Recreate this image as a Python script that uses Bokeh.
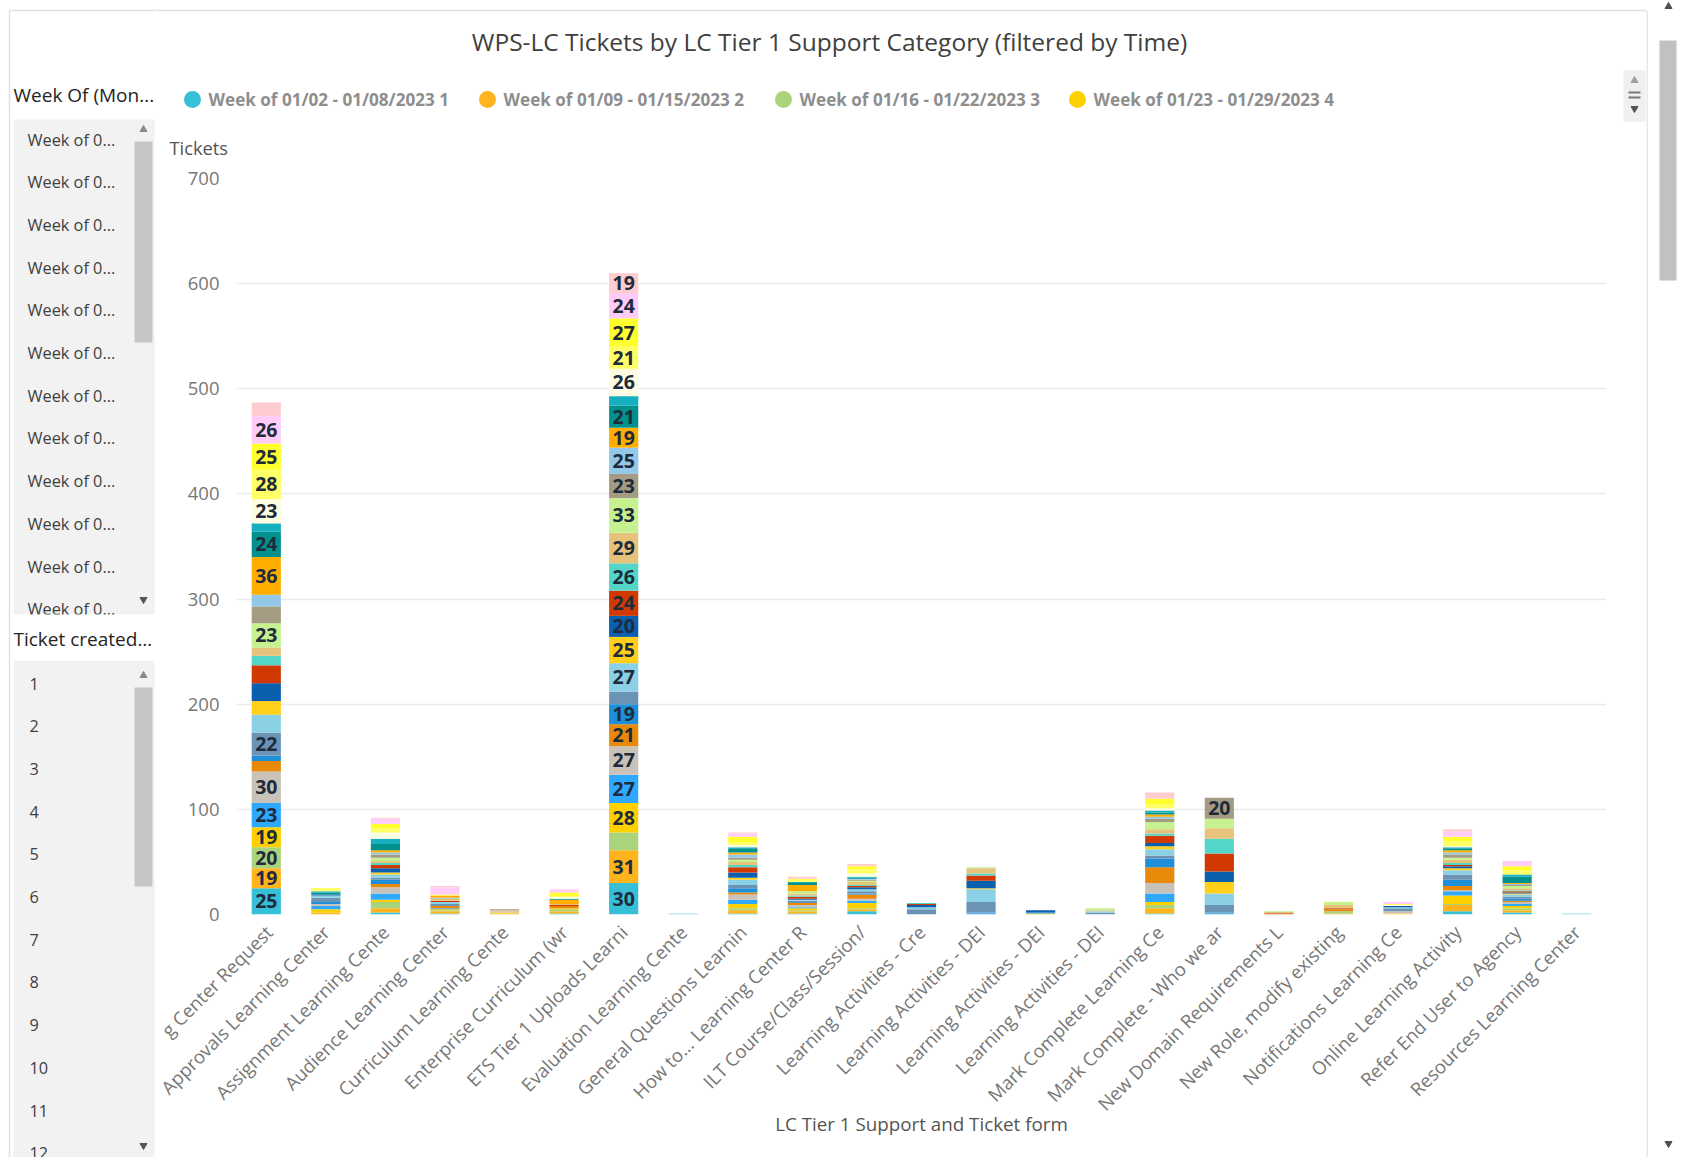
from math import pi
from bokeh.plotting import figure
from bokeh.layouts import row, column
from bokeh.models import ColumnDataSource, FactorRange, Range1d, FixedTicker
from bokeh.core.properties import value
from bokeh.embed import file_html
from bokeh.resources import INLINE

FONT = "Open Sans"

# ---------------- data ----------------
title_text = "WPS-LC Tickets by LC Tier 1 Support Category (filtered by Time)"
x_title = "LC Tier 1 Support and Ticket form"
y_title = "Tickets"
y_ticks = [0, 100, 200, 300, 400, 500, 600, 700]

ZW = "\u200b"
categories = [
    "g Center Request", "Approvals Learning Center", "Assignment Learning Cente",
    "Audience Learning Center", "Curriculum Learning Cente", "Enterprise Curriculum (wr",
    "ETS Tier 1 Uploads Learni", "Evaluation Learning Cente", "General Questions Learnin",
    "How to... Learning Center R", "ILT Course/Class/Session/", "Learning Activities - Cre",
    "Learning Activities - DEI", "Learning Activities - DEI" + ZW, "Learning Activities - DEI" + ZW + ZW,
    "Mark Complete Learning Ce", "Mark Complete - Who we ar", "New Domain Requirements L",
    "New Role, modify existing", "Notifications Learning Ce", "Online Learning Activity",
    "Refer End User to Agency", "Resources Learning Center",
]

legend_labels = [
    "Week of 01/02 - 01/08/2023 1", "Week of 01/09 - 01/15/2023 2",
    "Week of 01/16 - 01/22/2023 3", "Week of 01/23 - 01/29/2023 4",
]

week_colors = [
    "#37BFD7", "#FFB41E", "#A9D47C", "#FFD000", "#2FA8FF", "#C9C2B8", "#E8890A",
    "#1E8FD8", "#6B93B5", "#8BD1E6", "#FFCF1A", "#0A5FAE", "#D03A02", "#53D6C8",
    "#E6C27A", "#C5F28F", "#A39C82", "#93C8E8", "#FFAE00", "#02918C", "#16AFBF",
    "#FFFDE1", "#FFFF66", "#FFFF2E", "#FFCCF8", "#FFCCCF",
]

# tickets per week (weeks 1..26) for each category
learning_center_request = [25, 19, 20, 19, 23, 30, 10, 5, 22, 17, 13, 17, 17, 9, 8, 23, 16, 11, 36, 24, 8, 23, 28, 25, 26, 13]
approvals = [0, 2, 0, 3, 3, 2, 0, 2, 4, 2, 0, 1, 0, 0, 0, 0, 0, 0, 0, 2, 1, 0, 2, 1, 0, 0]
assignment = [2, 4, 6, 2, 6, 6, 3, 4, 2, 3, 2, 4, 3, 2, 2, 3, 3, 2, 2, 6, 5, 6, 4, 4, 5, 1]
audience = [1, 2, 1, 1, 1, 0, 2, 0, 2, 2, 0, 0, 1, 0, 2, 0, 0, 1, 2, 0, 0, 0, 1, 0, 7, 1]
curriculum = [0, 1, 0, 1, 0, 1, 0, 0, 0, 0, 0, 0, 0, 0, 1, 0, 1, 0, 0, 0, 0, 0, 0, 0, 0, 0]
enterprise = [1, 2, 2, 1, 0, 0, 2, 0, 0, 0, 0, 0, 1, 0, 1, 0, 0, 0, 4, 1, 0, 2, 0, 4, 3, 0]
ets_uploads = [30, 31, 17, 28, 27, 27, 21, 19, 12, 27, 25, 20, 24, 26, 29, 33, 23, 25, 19, 21, 9, 26, 21, 27, 24, 19]
evaluation = [0, 0, 0, 0, 0, 0, 0, 0, 0, 1, 0, 0, 0, 0, 0, 0, 0, 0, 0, 0, 0, 0, 0, 0, 0, 0]
general_questions = [1, 3, 2, 4, 4, 5, 2, 4, 3, 5, 2, 5, 5, 2, 3, 2, 2, 3, 2, 4, 1, 2, 3, 5, 3, 1]
how_to = [1, 2, 1, 2, 1, 2, 2, 0, 2, 1, 0, 1, 2, 1, 2, 2, 0, 0, 6, 2, 1, 0, 2, 1, 0, 2]
ilt_course = [3, 2, 1, 5, 2, 2, 4, 1, 2, 2, 0, 2, 1, 1, 3, 1, 1, 1, 0, 1, 1, 3, 4, 3, 0, 2]
la_create = [0, 0, 0, 0, 0, 0, 0, 0, 5, 2, 0, 2, 1, 1, 0, 0, 0, 0, 0, 0, 0, 0, 0, 0, 0, 0]
la_dei_1 = [0, 0, 0, 0, 1, 0, 0, 1, 10, 12, 1, 7, 5, 2, 5, 1, 0, 0, 0, 0, 0, 0, 0, 0, 0, 0]
la_dei_2 = [0, 0, 0, 1, 0, 0, 0, 1, 0, 0, 0, 2, 0, 0, 0, 0, 0, 0, 0, 0, 0, 0, 0, 0, 0, 0]
la_dei_3 = [0, 0, 0, 0, 0, 0, 0, 0, 2, 1, 0, 0, 0, 0, 1, 2, 0, 0, 0, 0, 0, 0, 0, 0, 0, 0]
mark_complete_lc = [1, 5, 3, 3, 8, 10, 15, 8, 3, 6, 3, 3, 7, 2, 4, 7, 3, 2, 2, 2, 2, 2, 4, 5, 0, 6]
mark_complete_who = [1, 0, 0, 0, 0, 0, 0, 1, 7, 11, 11, 10, 17, 14, 10, 9, 20, 0, 0, 0, 0, 0, 0, 0, 0, 0]
new_domain = [0, 0, 0, 0, 0, 0, 1, 0, 0, 0, 0, 0, 1, 0, 0, 1, 0, 0, 0, 0, 0, 0, 0, 0, 0, 0]
new_role = [0, 1, 2, 0, 0, 0, 2, 0, 0, 0, 0, 0, 1, 0, 3, 3, 0, 0, 0, 0, 0, 1, 0, 0, 0, 0]
notifications = [0, 0, 0, 1, 0, 2, 0, 0, 3, 1, 0, 1, 0, 0, 0, 0, 0, 0, 0, 0, 0, 1, 1, 0, 2, 0]
online_activity = [3, 6, 1, 8, 4, 1, 4, 6, 5, 4, 2, 2, 1, 2, 3, 2, 3, 2, 2, 2, 1, 1, 5, 4, 5, 2]
refer_end_user = [2, 2, 2, 2, 2, 2, 1, 2, 2, 2, 1, 1, 1, 1, 2, 2, 1, 1, 1, 6, 2, 0, 4, 4, 5, 0]
resources = [0, 0, 0, 0, 0, 0, 0, 0, 0, 1, 0, 0, 0, 0, 0, 0, 0, 0, 0, 0, 0, 0, 0, 0, 0, 0]

slicer1_header = "Week Of (Mon..."
slicer1_items = ["Week of 0..."] * 12
slicer2_header = "Ticket created..."
slicer2_items = ["1", "2", "3", "4", "5", "6", "7", "8", "9", "10", "11", "12"]

rows_by_cat = [
    learning_center_request, approvals, assignment, audience, curriculum, enterprise,
    ets_uploads, evaluation, general_questions, how_to, ilt_course, la_create,
    la_dei_1, la_dei_2, la_dei_3, mark_complete_lc, mark_complete_who, new_domain,
    new_role, notifications, online_activity, refer_end_user, resources,
]
n_weeks = len(week_colors)
weeks = ["w%02d" % (i + 1) for i in range(n_weeks)]
table = {"cat": categories}
for j, w in enumerate(weeks):
    table[w] = [r[j] for r in rows_by_cat]
src = ColumnDataSource(table)

# labels for segments large enough
lx, ly, lt = [], [], []
for c, r in zip(categories, rows_by_cat):
    cum = 0
    for v in r:
        if v >= 19:
            lx.append(c)
            ly.append(cum + v / 2)
            lt.append(str(v))
        cum += v
lab_src = ColumnDataSource(dict(x=lx, y=ly, t=lt))

# ---------------- helpers ----------------
def deco(w, h, xr, yr):
    f = figure(width=w, height=h, x_range=Range1d(*xr), y_range=Range1d(*yr),
               output_backend="svg", toolbar_location=None,
               x_axis_location=None, y_axis_location=None, min_border=0)
    f.grid.visible = False
    f.outline_line_color = None
    f.background_fill_color = "white"
    f.border_fill_color = "white"
    return f

BORDER = "#E1E1E1"
H = 1157          # total height (page px)
XL = 155          # right edge of slicer panel
XR = 1646         # right edge of visual
W = 1687          # total width
YT = 163          # bottom of header strip

# ---------------- left slicer panel ----------------
L = deco(XL, H, (0, XL), (H, 0))
L.segment(x0=[9, 9], y0=[10, 10], x1=[9, XL], y1=[H, 10], line_color=BORDER, line_width=1.5)
L.quad(left=[13, 13], right=[154, 154], top=[119, 660], bottom=[614, H],
       fill_color="#F2F2F2", line_color=None)
L.text(x=[27] * len(slicer1_items), y=[139 + 42.7 * k for k in range(len(slicer1_items))],
       text=slicer1_items, text_font=value(FONT), text_font_size="16.3px",
       text_color="#404040", text_baseline="middle")
L.quad(left=[11], right=[XL], top=[614], bottom=[660], fill_color="white", line_color=None)
L.text(x=[13, 13], y=[94, 638], text=[slicer1_header, slicer2_header], text_font=value(FONT),
       text_font_size="19px", text_color="#252423", text_baseline="middle")
L.text(x=[29] * len(slicer2_items), y=[683 + 42.7 * k for k in range(len(slicer2_items))],
       text=slicer2_items, text_font=value(FONT), text_font_size="16.3px",
       text_color="#404040", text_baseline="middle")
L.quad(left=[134, 134], right=[152, 152], top=[141, 687], bottom=[342, 886],
       fill_color="#C6C6C6", line_color=None)
L.scatter(x=[143, 143], y=[129, 675], marker="triangle", size=7, color="#8A8A8A")
L.scatter(x=[143, 143], y=[599, 1145], marker="inverted_triangle", size=7, color="#555555")

# ---------------- top header ----------------
T = deco(XR - XL, YT, (XL, XR), (YT, 0))
T.segment(x0=[XL], y0=[10], x1=[XR], y1=[10], line_color=BORDER, line_width=1.5)
T.text(x=[829], y=[41], text=[title_text], text_font=value(FONT), text_font_size="24.5px",
       text_color="#404040", text_align="center", text_baseline="middle")
leg_x = [192, 487, 783, 1077]
T.scatter(x=leg_x, y=[99] * 4, size=17, color=week_colors[:4], line_color=None)
T.text(x=[x + 16 for x in leg_x], y=[99] * 4, text=legend_labels, text_font=value(FONT),
       text_font_size="17.1px", text_font_style="bold", text_color="#8E8E8E",
       text_baseline="middle")
T.text(x=[169], y=[147], text=[y_title], text_font=value(FONT), text_font_size="18.3px",
       text_color="#555555", text_baseline="middle")
T.quad(left=[1623], right=[1645], top=[70], bottom=[121], fill_color="#F0F0F0", line_color=None)
T.scatter(x=[1634], y=[80], marker="triangle", size=7, color="#A0A0A0")
T.scatter(x=[1634], y=[108], marker="inverted_triangle", size=7, color="#555555")
T.segment(x0=[1628, 1628], y0=[92, 97], x1=[1640, 1640], y1=[92, 97], line_color="#777777", line_width=2)

# ---------------- main chart ----------------
M = figure(width=XR - XL, height=H - YT, x_range=FactorRange(factors=categories),
           y_range=Range1d(0, 700), output_backend="svg", toolbar_location=None,
           min_border_left=236 - XL, min_border_right=XR - 1606,
           min_border_top=178 - YT, min_border_bottom=H - 914)
M.outline_line_color = None
M.background_fill_color = "white"
M.border_fill_color = "white"
M.vbar_stack(weeks, x="cat", width=0.49, color=week_colors, line_color=None, source=src)
M.text(x="x", y="y", text="t", source=lab_src, text_align="center", text_baseline="middle",
       text_font=value(FONT), text_font_style="bold", text_font_size="19.5px", text_color="#1E2B3C")

M.xgrid.grid_line_color = None
M.ygrid.grid_line_color = "#EBEBEB"
M.ygrid.grid_line_width = 1.5

M.yaxis.ticker = FixedTicker(ticks=y_ticks)
M.yaxis.axis_line_color = None
M.yaxis.major_tick_line_color = None
M.yaxis.minor_tick_line_color = None
M.yaxis.major_label_text_font = FONT
M.yaxis.major_label_text_font_size = "18.5px"
M.yaxis.major_label_text_color = "#777777"
M.yaxis.major_label_standoff = 11

M.xaxis.axis_line_color = None
M.xaxis.major_tick_line_color = None
M.xaxis.minor_tick_line_color = None
M.xaxis.major_label_orientation = pi / 4
M.xaxis.major_label_text_font = FONT
M.xaxis.major_label_text_font_size = "18.5px"
M.xaxis.major_label_text_color = "#777777"
M.xaxis.major_label_standoff = 8
M.xaxis.axis_label = x_title
M.xaxis.axis_label_text_font = FONT
M.xaxis.axis_label_text_font_style = "normal"
M.xaxis.axis_label_text_font_size = "18.8px"
M.xaxis.axis_label_text_color = "#555555"
M.xaxis.axis_label_standoff = -16

# ---------------- right scrollbar ----------------
R = deco(W - XR, H, (XR, W), (H, 0))
R.segment(x0=[XR + 0.5], y0=[10], x1=[XR + 0.5], y1=[H], line_color=BORDER, line_width=1.5)
R.quad(left=[1659], right=[1676], top=[40], bottom=[280], fill_color="#C1C1C1", line_color=None)
R.scatter(x=[1668], y=[6], marker="triangle", size=7, color="#505050")
R.scatter(x=[1668], y=[1143], marker="inverted_triangle", size=7, color="#505050")

layout = row(L, column(column(T), column(M)), R)
open("out.html", "w").write(file_html(layout, INLINE))
